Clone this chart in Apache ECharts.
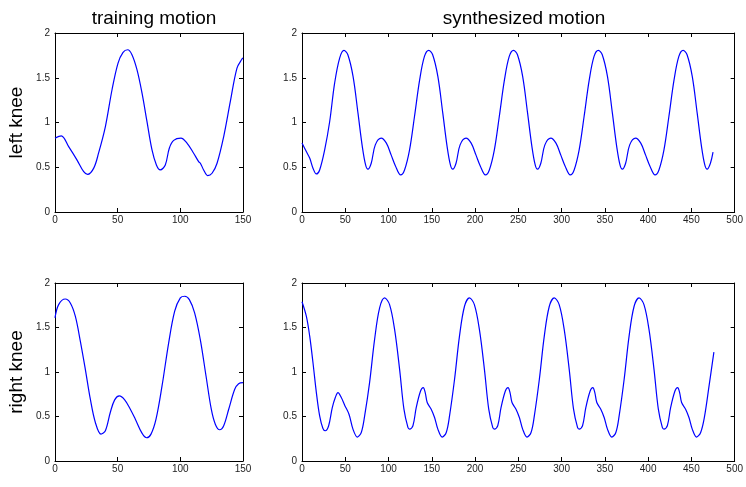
<!DOCTYPE html>
<html>
<head>
<meta charset="utf-8">
<script src="https://cdn.jsdelivr.net/npm/echarts@6/dist/echarts.min.js"></script>
<style>
    html, body { margin: 0; padding: 0; background: #fff; }
    #main { width: 746px; height: 487px; }
</style>
</head>
<body>
<div id="main"></div>
<script>
// column titles and row labels
var colTitles = ['training motion', 'synthesized motion'];
var rowNames = ['left knee', 'right knee'];

// axis ticks
var trainTicks = [0, 50, 100, 150];
var synthTicks = [0, 50, 100, 150, 200, 250, 300, 350, 400, 450, 500];
var yTicks = [0, 0.5, 1, 1.5, 2];

// training motion, left knee  [frame, value]
var trainLeft = [
    [0, 0.825], [5, 0.851], [10.9, 0.73], [17.6, 0.58], [22.9, 0.45], [26, 0.42],
    [30.9, 0.49], [34.8, 0.66], [40.2, 0.955], [45.5, 1.366], [50.3, 1.664], [54.3, 1.784],
    [58, 1.813], [61.4, 1.757], [65.4, 1.59], [69.4, 1.33], [73.4, 1.01], [77.4, 0.694],
    [80.9, 0.526], [84, 0.47], [88, 0.526], [91.2, 0.713], [94.7, 0.80], [100.5, 0.825],
    [105.3, 0.77], [110.6, 0.657], [114.6, 0.563], [116, 0.545], [118.6, 0.47], [121.8, 0.407],
    [125.3, 0.433], [129.3, 0.545], [134.6, 0.843], [139.9, 1.235], [145.2, 1.608], [149.2, 1.709],
    [150, 1.72]
];

// training motion, right knee
var trainRight = [
    [0, 1.608], [2.9, 1.757], [8.2, 1.82], [12.2, 1.776], [16.2, 1.627], [20.2, 1.347],
    [24.2, 1.03], [28.2, 0.694], [32.2, 0.433], [36.7, 0.302], [40.2, 0.34], [44.1, 0.545],
    [47.6, 0.687], [51.3, 0.731], [55.6, 0.687], [60.1, 0.582], [64.1, 0.47], [69.4, 0.313],
    [73.1, 0.261], [76.6, 0.302], [80.6, 0.47], [85.4, 0.843], [90.7, 1.328], [95.5, 1.683],
    [100, 1.832], [103.5, 1.851], [107.2, 1.813], [111.4, 1.664], [115.9, 1.366], [120.5, 0.955],
    [124.7, 0.582], [127.9, 0.414], [131.4, 0.351], [134.6, 0.396], [138.6, 0.582], [143.4, 0.806],
    [146.5, 0.869], [150, 0.88]
];

// synthesized motion, left knee
var synthLeft = [
    [0, 0.77], [5, 0.675], [9, 0.60], [12.7, 0.489], [16.6, 0.425], [20.4, 0.47],
    [26.2, 0.694], [32, 1.011], [37.7, 1.44], [43.5, 1.72], [48.5, 1.806],
    [53, 1.757], [59, 1.515], [64.7, 1.104], [69.7, 0.731], [73.5, 0.526], [76.2, 0.478],
    [80, 0.545], [84.7, 0.75], [91.5, 0.825], [97.5, 0.769], [103, 0.638], [108, 0.515],
    [114, 0.414], [118.5, 0.47], [124.3, 0.694], [130, 1.067], [136, 1.478], [141.5, 1.739],
    [146.5, 1.806],
    [151, 1.757], [157, 1.515], [162.7, 1.104], [167.7, 0.731], [171.5, 0.526], [174.2, 0.478],
    [178, 0.545], [182.7, 0.75], [189.5, 0.825], [195.5, 0.769], [201, 0.638], [206, 0.515],
    [212, 0.414], [216.5, 0.47], [222.3, 0.694], [228, 1.067], [234, 1.478], [239.5, 1.739],
    [244.5, 1.806],
    [249, 1.757], [255, 1.515], [260.7, 1.104], [265.7, 0.731], [269.5, 0.526], [272.2, 0.478],
    [276, 0.545], [280.7, 0.75], [287.5, 0.825], [293.5, 0.769], [299, 0.638], [304, 0.515],
    [310, 0.414], [314.5, 0.47], [320.3, 0.694], [326, 1.067], [332, 1.478], [337.5, 1.739],
    [342.5, 1.806],
    [347, 1.757], [353, 1.515], [358.7, 1.104], [363.7, 0.731], [367.5, 0.526], [370.2, 0.478],
    [374, 0.545], [378.7, 0.75], [385.5, 0.825], [391.5, 0.769], [397, 0.638], [402, 0.515],
    [408, 0.414], [412.5, 0.47], [418.3, 0.694], [424, 1.067], [430, 1.478], [435.5, 1.739],
    [440.5, 1.806],
    [445, 1.757], [451, 1.515], [456.7, 1.104], [461.7, 0.731], [465.5, 0.526], [468.2, 0.478],
    [472, 0.545], [475, 0.668]
];

// synthesized motion, right knee
var synthRight = [
    [0, 1.79], [5, 1.627], [8.9, 1.403], [12.7, 1.104], [16.6, 0.769], [20.4, 0.507],
    [24.2, 0.366], [27, 0.34], [30.8, 0.396], [35, 0.60], [38.5, 0.713], [41.6, 0.769],
    [45.4, 0.713], [49.3, 0.627], [54.3, 0.526], [58.9, 0.358], [64, 0.269], [68.5, 0.321],
    [72.4, 0.507], [78.1, 0.88], [83.9, 1.366], [89.7, 1.72], [95.5, 1.832],
    [101.2, 1.757], [107, 1.478], [112.8, 1.03], [117.8, 0.582], [122.4, 0.377], [124.3, 0.358],
    [128.2, 0.396], [132, 0.60], [137, 0.787], [140.1, 0.825], [142.4, 0.769], [144.7, 0.657],
    [149.3, 0.582], [153.2, 0.489], [157, 0.358], [162, 0.269], [166.7, 0.321], [170.5, 0.507],
    [176.3, 0.918], [182, 1.403], [187.8, 1.739], [193.5, 1.832],
    [199.2, 1.757], [205, 1.478], [210.8, 1.03], [215.8, 0.582], [220.4, 0.377], [222.3, 0.358],
    [226.2, 0.396], [230, 0.60], [235, 0.787], [238.1, 0.825], [240.4, 0.769], [242.7, 0.657],
    [247.3, 0.582], [251.2, 0.489], [255, 0.358], [260, 0.269], [264.7, 0.321], [268.5, 0.507],
    [274.3, 0.918], [280, 1.403], [285.8, 1.739], [291.5, 1.832],
    [297.2, 1.757], [303, 1.478], [308.8, 1.03], [313.8, 0.582], [318.4, 0.377], [320.3, 0.358],
    [324.2, 0.396], [328, 0.60], [333, 0.787], [336.1, 0.825], [338.4, 0.769], [340.7, 0.657],
    [345.3, 0.582], [349.2, 0.489], [353, 0.358], [358, 0.269], [362.7, 0.321], [366.5, 0.507],
    [372.3, 0.918], [378, 1.403], [383.8, 1.739], [389.5, 1.832],
    [395.2, 1.757], [401, 1.478], [406.8, 1.03], [411.8, 0.582], [416.4, 0.377], [418.3, 0.358],
    [422.2, 0.396], [426, 0.60], [431, 0.787], [434.1, 0.825], [436.4, 0.769], [438.7, 0.657],
    [443.3, 0.582], [447.2, 0.489], [451, 0.358], [456, 0.269], [460.7, 0.321], [465, 0.49],
    [470.5, 0.85], [476, 1.224]
];

var fontName = 'Liberation Sans, Arial, sans-serif';

// panel boxes: training left, synth left, training right, synth right
var grids = [
    { left: 55, top: 33, width: 188, height: 179 },
    { left: 302, top: 33, width: 433, height: 179 },
    { left: 55, top: 283, width: 188, height: 178 },
    { left: 302, top: 283, width: 433, height: 178 }
];
var xMax = [150, 500, 150, 500];
var panelData = [trainLeft, synthLeft, trainRight, synthRight];

function makeX(i, top) {
    return {
        type: 'value',
        gridIndex: i,
        position: top ? 'top' : 'bottom',
        min: 0,
        max: xMax[i],
        interval: 50,
        axisLine: { show: true, onZero: false, lineStyle: { color: '#000', width: 1 } },
        axisTick: { show: true, inside: true, length: 4, lineStyle: { color: '#000' } },
        axisLabel: {
            show: !top, margin: 3, fontSize: 10, color: '#222', fontFamily: fontName,
            showMinLabel: true, showMaxLabel: true
        },
        splitLine: { show: false }
    };
}

function makeY(i, right) {
    var ax = {
        type: 'value',
        gridIndex: i,
        position: right ? 'right' : 'left',
        min: 0,
        max: 2,
        interval: 0.5,
        axisLine: { show: true, onZero: false, lineStyle: { color: '#000', width: 1 } },
        axisTick: { show: true, inside: true, length: 4, lineStyle: { color: '#000' } },
        axisLabel: { show: !right, margin: 5, fontSize: 10, color: '#222', fontFamily: fontName },
        splitLine: { show: false }
    };
    // row label on the left-hand panels
    if (!right && (i === 0 || i === 2)) {
        ax.name = rowNames[i / 2];
        ax.nameLocation = 'middle';
        ax.nameRotate = 90;
        ax.nameGap = 29;
        ax.nameTextStyle = { fontSize: 19, color: '#000', fontFamily: fontName };
    }
    return ax;
}

var xAxes = [], yAxes = [], series = [];
for (var i = 0; i < 4; i++) {
    xAxes.push(makeX(i, false));
    yAxes.push(makeY(i, false));
}
for (var i = 0; i < 4; i++) {
    xAxes.push(makeX(i, true));
    yAxes.push(makeY(i, true));
}
for (var i = 0; i < 4; i++) {
    series.push({
        type: 'line',
        xAxisIndex: i,
        yAxisIndex: i,
        data: panelData[i],
        showSymbol: false,
        smooth: 0.35,
        lineStyle: { color: '#0000ff', width: 1.2 },
        animation: false
    });
}

var option = {
    backgroundColor: '#fff',
    animation: false,
    title: [
        {
            text: colTitles[0], left: 149, top: 4, textAlign: 'center',
            textStyle: { fontSize: 19, fontWeight: 'normal', color: '#000', fontFamily: fontName }
        },
        {
            text: colTitles[1], left: 519, top: 4, textAlign: 'center',
            textStyle: { fontSize: 19, fontWeight: 'normal', color: '#000', fontFamily: fontName }
        }
    ],
    grid: grids,
    xAxis: xAxes,
    yAxis: yAxes,
    series: series
};

var chart = echarts.init(document.getElementById('main'));
chart.setOption(option);
</script>
</body>
</html>
